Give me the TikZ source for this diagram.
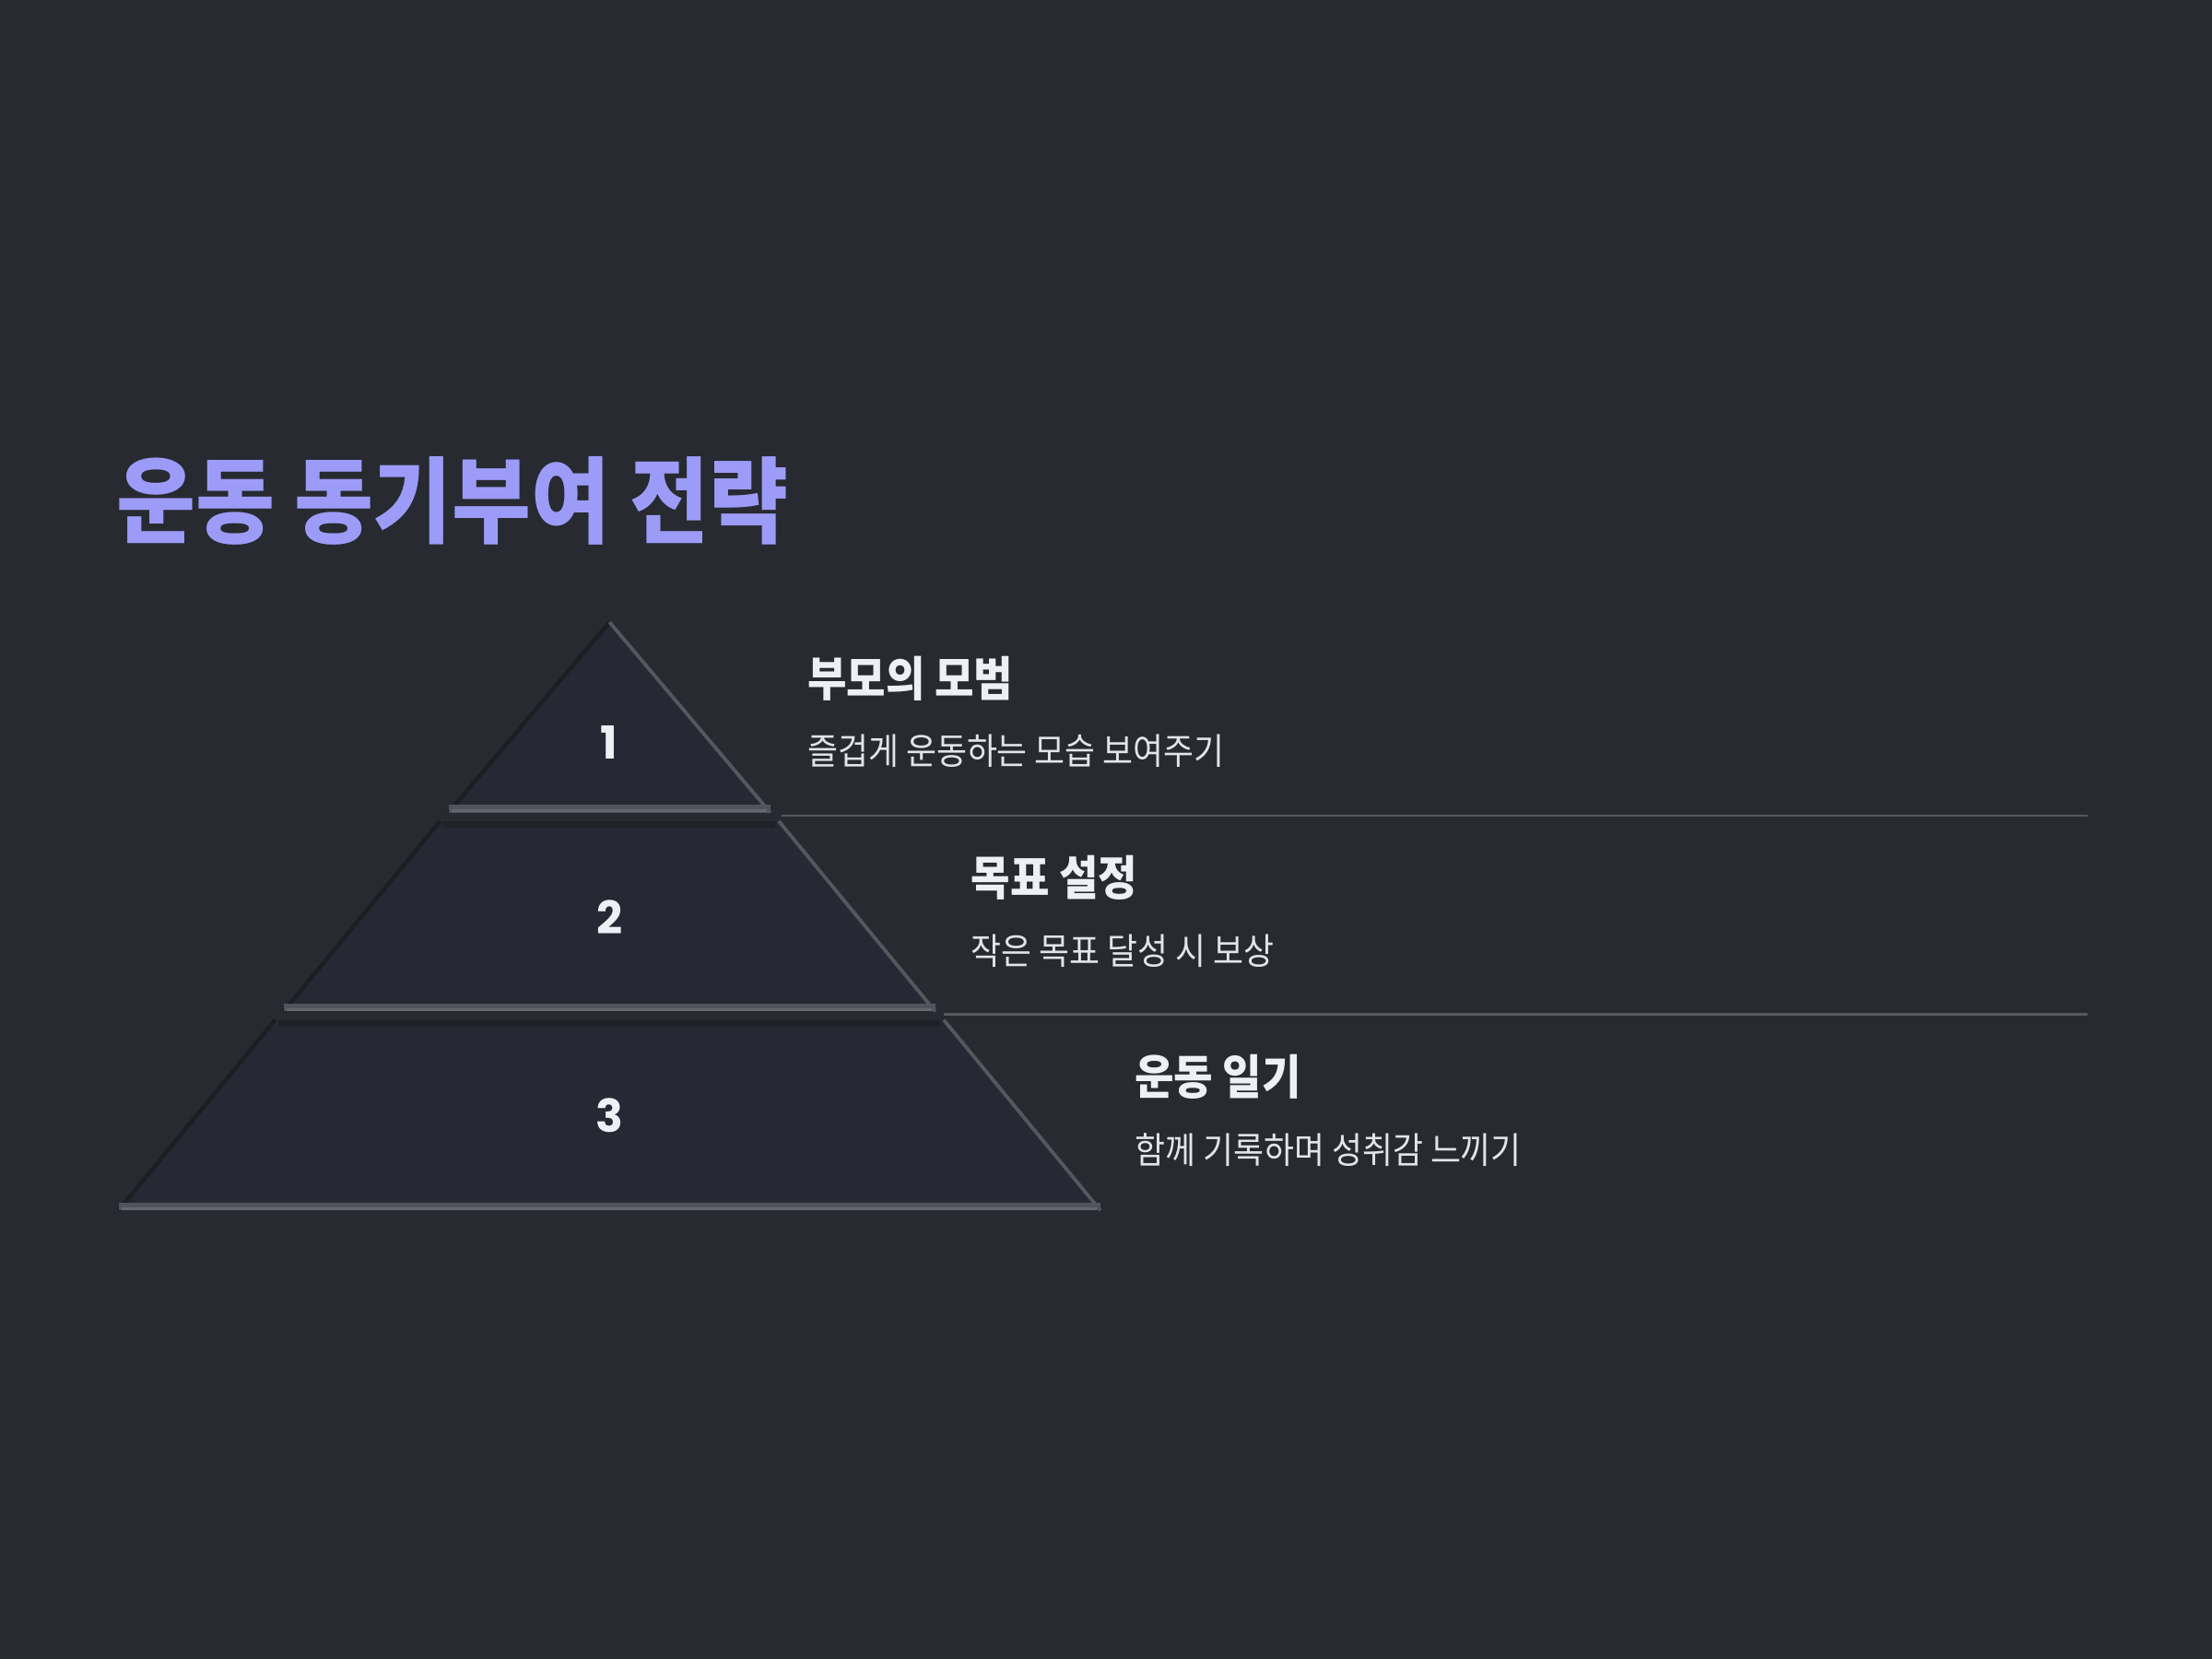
\documentclass[tikz,border=0pt]{standalone}
\usepackage{fontspec}
\setmainfont{Noto Sans CJK KR}
\newfontfamily\krtitle{Noto Sans CJK KR}[FakeStretch=0.915]
\newfontfamily\krhead{Noto Sans CJK KR}[FakeStretch=0.90]
\newfontfamily\krtext{Noto Sans CJK KR}[FakeStretch=0.91]
\newfontfamily\numfont{Poppins}

\definecolor{bgcol}{HTML}{272A30}
\definecolor{pyrfill}{HTML}{262933}
\definecolor{titlecol}{HTML}{9C9CF8}
\definecolor{headcol}{HTML}{EEF0F6}
\definecolor{subcol}{HTML}{E2E4EA}
\definecolor{rulecol}{HTML}{55585F}
\definecolor{edgehi}{HTML}{64676D}
\definecolor{edgelo}{HTML}{1A1C21}

\tikzset{
  piece/.style={fill=pyrfill},
  shadowedge/.style={draw=edgelo!85!pyrfill,line width=1.3pt},
  lightedge/.style={draw=edgehi!75!pyrfill,line width=1.1pt},
  bottomedge/.style={draw=edgehi!70!pyrfill,line width=2.4pt},
  bottomglint/.style={draw=edgehi,line width=0.9pt},
  topshadow/.style={draw=edgelo!60!pyrfill,line width=2pt},
  divider/.style={draw=rulecol,line width=0.6pt},
  numlabel/.style={text=headcol,font=\numfont\bfseries\fontsize{14}{16}\selectfont},
  headlabel/.style={anchor=west,inner sep=0pt,text=headcol,font=\krhead\bfseries\fontsize{14.6}{18}\selectfont},
  sublabel/.style={anchor=west,inner sep=0pt,text=subcol,font=\krtext\fontsize{11.2}{14}\selectfont}
}

\begin{document}
\begin{tikzpicture}[x=0.015306cm,y=-0.015306cm]

    % background
    \fill[bgcol] (0,0) rectangle (1568,1176);
    \useasboundingbox (0,0) rectangle (1568,1176);

    % title
    \node[anchor=west,inner sep=0pt,text=titlecol,font=\krtitle\bfseries\fontsize{29}{34}\selectfont] (title) at (82,355) {운동 동기부여 전략};

    %%%%%%%%%%%%%%%%%%%%%%%%%%%%%%%%%%%%%%%%%%%%%%%%%%%%%%

    % top piece
    \coordinate (p1t) at (432,441);
    \coordinate (p1l) at (318,576);
    \coordinate (p1r) at (546,576);
    \fill[piece] (p1t)--(p1r)--(p1l)--cycle;
    \draw[shadowedge] (p1l)--(p1t);
    \draw[lightedge] (p1t)--(p1r);
    \draw[bottomedge] ([yshift=1.2pt]p1l)--([yshift=1.2pt]p1r);
    \draw[bottomglint] ([xshift=1pt,yshift=0.5pt]p1l)--([xshift=-1pt,yshift=0.5pt]p1r);
    \node[numlabel] (n1) at (432,526) {1};

    % middle piece
    \coordinate (p2a) at (312,582);
    \coordinate (p2b) at (552,582);
    \coordinate (p2c) at (663,717);
    \coordinate (p2d) at (201,717);
    \fill[piece] (p2a)--(p2b)--(p2c)--(p2d)--cycle;
    \draw[topshadow] ([xshift=1pt,yshift=-1pt]p2a)--([xshift=-1pt,yshift=-1pt]p2b);
    \draw[shadowedge] (p2d)--(p2a);
    \draw[lightedge] (p2b)--(p2c);
    \draw[bottomedge] ([yshift=1.2pt]p2d)--([yshift=1.2pt]p2c);
    \draw[bottomglint] ([xshift=1pt,yshift=0.5pt]p2d)--([xshift=-1pt,yshift=0.5pt]p2c);
    \node[numlabel] (n2) at (432,650) {2};

    % bottom piece
    \coordinate (p3a) at (195,723);
    \coordinate (p3b) at (669,723);
    \coordinate (p3c) at (780,858);
    \coordinate (p3d) at (84,858);
    \fill[piece] (p3a)--(p3b)--(p3c)--(p3d)--cycle;
    \draw[topshadow] ([xshift=1pt,yshift=-1pt]p3a)--([xshift=-1pt,yshift=-1pt]p3b);
    \draw[shadowedge] (p3d)--(p3a);
    \draw[lightedge] (p3b)--(p3c);
    \draw[bottomedge] ([yshift=1.2pt]p3d)--([yshift=1.2pt]p3c);
    \draw[bottomglint] ([xshift=1pt,yshift=0.5pt]p3d)--([xshift=-1pt,yshift=0.5pt]p3c);
    \node[numlabel] (n3) at (432,791) {3};

    %%%%%%%%%%%%%%%%%%%%%%%%%%%%%%%%%%%%%%%%%%%%%%%%%%%%%%

    % level texts
    \node[headlabel] (h1) at (572,481) {부모의 모범};
    \node[sublabel] (s1) at (572,532) {즐겁게 운동하는 모습 보여주기};

    \node[headlabel] (h2) at (688,622) {목표 설정};
    \node[sublabel] (s2) at (688,674) {작은 목표 달성 시 보상};

    \node[headlabel] (h3) at (804,763) {운동 일기};
    \node[sublabel] (s3) at (804,815) {함께 기록하며 성취감 느끼기};

    % dividers
    \coordinate (r1a) at (554,578);
    \coordinate (r1b) at (1480,578);
    \coordinate (r2a) at (669,719);
    \coordinate (r2b) at (1480,719);
    \draw[divider] (r1a)--(r1b);
    \draw[divider] (r2a)--(r2b);

\end{tikzpicture}
\end{document}
